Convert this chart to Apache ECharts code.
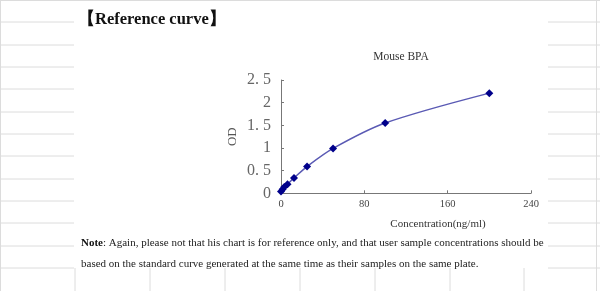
<!DOCTYPE html>
<html>
<head>
<meta charset="utf-8">
<script src="https://cdn.jsdelivr.net/npm/echarts@6/dist/echarts.min.js"></script>
<style>html,body{margin:0;padding:0;background:#fff}#c{width:600px;height:291px}</style>
</head>
<body>
<div id="c"></div>
<script>
// Data
var concentrations = [0, 1.56, 3.12, 6.25, 12.5, 25, 50, 100, 200];
var odValues = [0.04, 0.09, 0.14, 0.2, 0.34, 0.59, 0.99, 1.55, 2.21];
var xTicks = [0, 80, 160, 240];
var yTickLabels = ['0', '0. 5', '1', '1. 5', '2', '2. 5'];
var pageTitle = '【Reference curve】';
var chartTitle = 'Mouse BPA';
var xName = 'Concentration(ng/ml)';
var yName = 'OD';
var noteLine1 = 'Again, please not that his chart is for reference only, and that user sample concentrations should be';
var noteLine2 = 'based on the standard curve generated at the same time as their samples on the same plate.';

var points = concentrations.map(function (c, i) { return [c, odValues[i]]; });

// decorative page lines
var deco = [];
var lc = '#dcdcdc';
var hy = [22, 45, 67, 89, 112, 134, 156, 179, 201, 223, 246, 268];
hy.forEach(function (y) {
  deco.push({type: 'line', shape: {x1: 0, y1: y, x2: 74, y2: y}, style: {stroke: lc, lineWidth: 1}, silent: true});
  deco.push({type: 'line', shape: {x1: 548, y1: y, x2: 600, y2: y}, style: {stroke: lc, lineWidth: 1}, silent: true});
});
[75, 150, 225, 300, 375, 450, 524].forEach(function (x) {
  deco.push({type: 'line', shape: {x1: x, y1: 268, x2: x, y2: 291}, style: {stroke: lc, lineWidth: 1}, silent: true});
});
deco.push({type: 'line', shape: {x1: 0, y1: 0.5, x2: 600, y2: 0.5}, style: {stroke: lc, lineWidth: 1}, silent: true});
deco.push({type: 'line', shape: {x1: 0.5, y1: 0, x2: 0.5, y2: 291}, style: {stroke: lc, lineWidth: 1}, silent: true});
deco.push({type: 'line', shape: {x1: 596.5, y1: 0, x2: 596.5, y2: 291}, style: {stroke: lc, lineWidth: 1}, silent: true});

var serif = '"Liberation Serif", "Times New Roman", serif';

var chart = echarts.init(document.getElementById('c'), null, {renderer: 'canvas'});
chart.setOption({
  backgroundColor: '#fff',
  animation: false,
  graphic: deco,
  title: [
    {text: pageTitle, left: 73, top: 6, textStyle: {fontFamily: serif, fontSize: 16.5, fontWeight: 'bold', color: '#111'}},
    {text: chartTitle, left: 396, top: 46, textAlign: 'center', textStyle: {fontFamily: serif, fontSize: 11.5, fontWeight: 'normal', color: '#333'}},
    {text: xName, left: 433, top: 214, textAlign: 'center', textStyle: {fontFamily: serif, fontSize: 11, fontWeight: 'normal', color: '#333'}},
    {text: '{b|Note}: ' + noteLine1 + '\n' + noteLine2, left: 76, top: 228,
     textStyle: {fontFamily: serif, fontSize: 11, fontWeight: 'normal', color: '#222', lineHeight: 21,
       rich: {b: {fontFamily: serif, fontSize: 11, fontWeight: 'bold', color: '#111'}}}}
  ],
  grid: {left: 281, top: 80, width: 250, height: 113.3, containLabel: false},
  xAxis: {
    type: 'value', min: 0, max: 240, interval: 80,
    axisLine: {lineStyle: {color: '#777', width: 1}},
    axisTick: {inside: true, length: 3, lineStyle: {color: '#777'}},
    splitLine: {show: false},
    axisLabel: {fontFamily: serif, fontSize: 10.5, color: '#444', margin: 5,
      formatter: function (v) { return xTicks.indexOf(v) >= 0 ? String(v) : ''; }}
  },
  yAxis: {
    type: 'value', min: 0, max: 2.5, interval: 0.5,
    name: yName, nameLocation: 'middle', nameGap: 42, nameRotate: 90,
    nameTextStyle: {fontFamily: serif, fontSize: 13, color: '#555'},
    axisLine: {show: true, lineStyle: {color: '#777', width: 1}},
    axisTick: {show: true, inside: true, length: 3, lineStyle: {color: '#777'}},
    splitLine: {show: false},
    axisLabel: {fontFamily: serif, fontSize: 16, color: '#666', margin: 10,
      formatter: function (v) { var i = Math.round(v / 0.5); return yTickLabels[i] || ''; }}
  },
  series: [{
    type: 'line',
    data: points,
    smooth: 0.3,
    symbol: 'diamond',
    symbolSize: 8,
    lineStyle: {color: '#5a5ab4', width: 1.5},
    itemStyle: {color: '#00008b'}
  }]
});
</script>
</body>
</html>
